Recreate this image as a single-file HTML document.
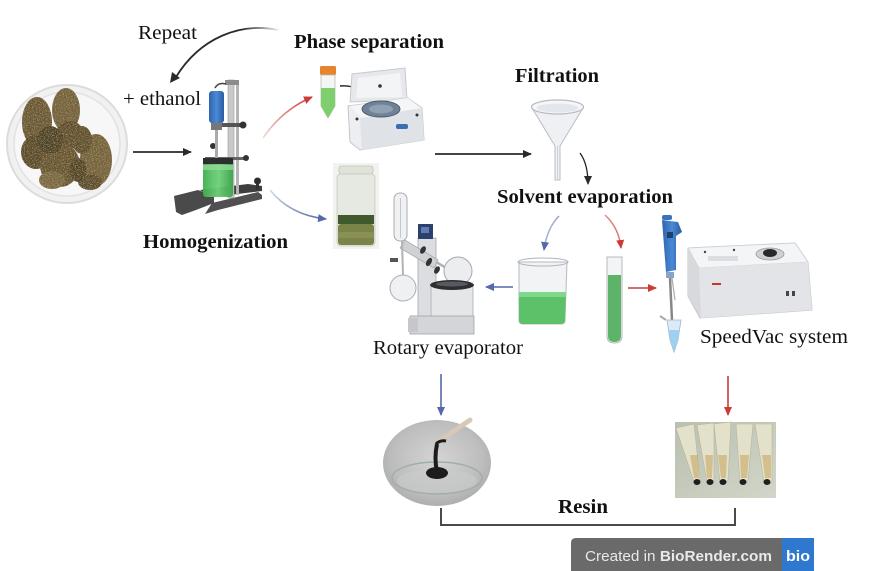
<!DOCTYPE html>
<html>
<head>
<meta charset="utf-8">
<style>
html,body{margin:0;padding:0;background:#fff;}
#c{position:relative;width:876px;height:571px;overflow:hidden;background:#fff;}
svg{position:absolute;left:0;top:0;}
</style>
</head>
<body>
<div id="c">
<svg width="876" height="571" viewBox="0 0 876 571" xmlns="http://www.w3.org/2000/svg">
<defs>
  <marker id="ak" markerWidth="10" markerHeight="10" refX="8" refY="4" orient="auto" markerUnits="userSpaceOnUse">
    <path d="M0,0 L9,4 L0,8 Z" fill="#2a2a2a"/>
  </marker>
  <marker id="ar" markerWidth="10" markerHeight="10" refX="8" refY="4" orient="auto" markerUnits="userSpaceOnUse">
    <path d="M0,0 L9,4 L0,8 Z" fill="#cc3b36"/>
  </marker>
  <marker id="ab" markerWidth="10" markerHeight="10" refX="8" refY="4" orient="auto" markerUnits="userSpaceOnUse">
    <path d="M0,0 L9,4 L0,8 Z" fill="#5568aa"/>
  </marker>
  <linearGradient id="fadeK" x1="1" y1="0" x2="0" y2="0">
    <stop offset="0" stop-color="#2a2a2a" stop-opacity="0.1"/>
    <stop offset="0.35" stop-color="#2a2a2a" stop-opacity="1"/>
    <stop offset="1" stop-color="#2a2a2a"/>
  </linearGradient>
  <linearGradient id="fadeR" x1="0" y1="1" x2="1" y2="0">
    <stop offset="0" stop-color="#cc3b36" stop-opacity="0.2"/>
    <stop offset="1" stop-color="#cc3b36"/>
  </linearGradient>
  <linearGradient id="fadeB" x1="0" y1="0" x2="1" y2="1">
    <stop offset="0" stop-color="#5568aa" stop-opacity="0.25"/>
    <stop offset="1" stop-color="#5568aa"/>
  </linearGradient>
  <radialGradient id="resinG" cx="0.5" cy="0.45" r="0.6">
    <stop offset="0" stop-color="#d4d4d4"/>
    <stop offset="0.7" stop-color="#bdbdbd"/>
    <stop offset="1" stop-color="#a9a9a9"/>
  </radialGradient>
  <linearGradient id="tubesG" x1="0" y1="0" x2="1" y2="1">
    <stop offset="0" stop-color="#b9c0b0"/>
    <stop offset="1" stop-color="#d2d6c8"/>
  </linearGradient>
  <linearGradient id="blueG" x1="0" y1="0" x2="1" y2="0">
    <stop offset="0" stop-color="#2f64ad"/>
    <stop offset="0.5" stop-color="#4a8ad6"/>
    <stop offset="1" stop-color="#2c5aa0"/>
  </linearGradient>
  <linearGradient id="greenG" x1="0" y1="0" x2="1" y2="0">
    <stop offset="0" stop-color="#3fae4c"/>
    <stop offset="0.5" stop-color="#6fd07a"/>
    <stop offset="1" stop-color="#3aa548"/>
  </linearGradient>
  <filter id="tex" x="0" y="0" width="1" height="1">
    <feTurbulence type="fractalNoise" baseFrequency="0.75" numOctaves="2" seed="3" result="n"/>
    <feColorMatrix in="n" type="matrix" values="0 0 0 0 0.2  0 0 0 0 0.15  0 0 0 0 0.07  1.6 0 0 0 -0.75" result="dk"/>
    <feComposite in="dk" in2="SourceGraphic" operator="in" result="t1"/>
    <feTurbulence type="fractalNoise" baseFrequency="0.9" numOctaves="2" seed="11" result="n2"/>
    <feColorMatrix in="n2" type="matrix" values="0 0 0 0 0.66  0 0 0 0 0.58  0 0 0 0 0.36  1.6 0 0 0 -0.8" result="lt"/>
    <feComposite in="lt" in2="SourceGraphic" operator="in" result="t2"/>
    <feMerge><feMergeNode in="SourceGraphic"/><feMergeNode in="t1"/><feMergeNode in="t2"/></feMerge>
  </filter>
</defs>

<!-- ===== Cannabis plate ===== -->
<ellipse cx="67" cy="144" rx="60" ry="59" fill="#f1f1f1" stroke="#dcdcdc" stroke-width="2"/>
<ellipse cx="67" cy="144" rx="53" ry="52" fill="#f7f7f7" stroke="#e2e2e2" stroke-width="1.5"/>
<g filter="url(#tex)">
  <ellipse cx="37" cy="122" rx="15" ry="25" fill="#6a5631"/>
  <ellipse cx="36" cy="152" rx="15" ry="17" fill="#574727"/>
  <ellipse cx="66" cy="110" rx="14" ry="22" fill="#73603a"/>
  <ellipse cx="70" cy="135" rx="14" ry="14" fill="#5d4c2a"/>
  <ellipse cx="60" cy="165" rx="20" ry="22" fill="#66532f"/>
  <ellipse cx="96" cy="160" rx="16" ry="26" fill="#74623a"/>
  <ellipse cx="50" cy="140" rx="13" ry="14" fill="#4a3c22"/>
  <ellipse cx="82" cy="140" rx="10" ry="14" fill="#5f4e2c"/>
  <ellipse cx="52" cy="180" rx="13" ry="9" fill="#7a6740"/>
  <ellipse cx="90" cy="182" rx="12" ry="8" fill="#5a4a29"/>
  <ellipse cx="78" cy="170" rx="8" ry="12" fill="#4d3f24"/>
</g>
<!-- arrow plate -> homogenizer -->
<line x1="133" y1="152" x2="191" y2="152" stroke="#2a2a2a" stroke-width="1.8" marker-end="url(#ak)"/>

<!-- Repeat arrow -->
<path d="M278,30 C240,22 200,38 176,77" fill="none" stroke="url(#fadeK)" stroke-width="1.8"/>
<path d="M170,83 L172,72 L180,78 Z" fill="#2a2a2a"/>

<!-- ===== Homogenizer ===== -->
<g>
  <polygon points="200,190 248,184 262,186 262,191 212,197" fill="#3e3e3e"/>
  <polygon points="174,196 198,190 214,196 214,203 196,210 182,215 176,212" fill="#4a4a4a"/>
  <polygon points="212,203 258,192 262,195 262,199 218,210 205,214" fill="#505050"/>
  <rect x="228" y="80" width="6" height="118" fill="#c9c9c9" stroke="#9a9a9a" stroke-width="0.6"/>
  <rect x="236" y="85" width="3" height="110" fill="#b5b5b5"/>
  <rect x="225" y="80" width="14" height="5" fill="#8c8c8c"/>
  <rect x="220" y="123" width="22" height="4" fill="#555"/>
  <circle cx="243" cy="125" r="3.5" fill="#333"/>
  <rect x="205" y="157" width="40" height="3" fill="#666"/>
  <circle cx="246" cy="158" r="3" fill="#333"/>
  <circle cx="213" cy="146" r="3" fill="#333"/>
  <path d="M215,88 Q218,82 226,84" fill="none" stroke="#444" stroke-width="1.5"/>
  <rect x="209" y="91" width="15" height="32" rx="3" fill="url(#blueG)"/>
  <rect x="211" y="123" width="11" height="7" fill="#777"/>
  <rect x="215" y="130" width="3" height="55" fill="#aaa"/>
  <rect x="203" y="162" width="30" height="35" rx="3" fill="url(#greenG)" opacity="0.95"/>
  <rect x="203" y="158" width="30" height="6" fill="#2e2e2e"/>
  <rect x="203" y="165" width="30" height="5" fill="#8ed895" opacity="0.8"/>
  <rect x="256" y="182" width="3" height="8" fill="#333"/>
  <circle cx="257.5" cy="181" r="3.5" fill="#2e2e2e"/>
</g>

<!-- red arrow to phase separation -->
<path d="M263,138 Q282,110 312,97" fill="none" stroke="url(#fadeR)" stroke-width="1.6" marker-end="url(#ar)"/>
<!-- blue arrow to jar -->
<path d="M270,190 Q290,215 326,219" fill="none" stroke="url(#fadeB)" stroke-width="1.6" marker-end="url(#ab)"/>

<!-- ===== Phase separation: tube + centrifuge ===== -->
<g>
  <rect x="320" y="66" width="16" height="9" rx="1.5" fill="#e8842c"/>
  <path d="M321,75 L335,75 L335,106 L328,118 L321,106 Z" fill="#f4f6f4" stroke="#b8c0b8" stroke-width="0.8"/>
  <path d="M321,88 L335,88 L335,106 L328,118 L321,106 Z" fill="#7fcf6f"/>
  <path d="M340,86 Q358,84 364,99" fill="none" stroke="#222" stroke-width="1.4" marker-end="url(#ak)"/>
  <polygon points="350,102 352,74 405,68 407,100" fill="#e6e8ec" stroke="#c7c9cd" stroke-width="1"/>
  <polygon points="356,98 358,78 400,73 402,97" fill="#f3f4f6"/>
  <circle cx="380" cy="86" r="1.8" fill="#333"/>
  <polygon points="348,106 408,98 422,108 424,140 360,150 350,142" fill="#eceef1" stroke="#c3c6cb" stroke-width="1"/>
  <polygon points="350,106 408,98 421,108 362,118" fill="#f5f6f8"/>
  <polygon points="360,118 422,108 424,140 362,150" fill="#dfe2e6"/>
  <ellipse cx="381" cy="109" rx="19" ry="8" fill="#6f8298" stroke="#4d5a6b" stroke-width="1"/>
  <ellipse cx="381" cy="109" rx="12" ry="4.5" fill="#8fa0b3"/>
  <rect x="396" y="124" width="12" height="5" rx="2" fill="#3b6db0"/>
  <circle cx="357" cy="119" r="1.5" fill="#333"/>
  <circle cx="417" cy="115" r="1.5" fill="#333"/>
</g>

<!-- ===== Jar photo ===== -->
<g>
  <rect x="333" y="163" width="46" height="86" fill="#f2f3ef"/>
  <rect x="339" y="166" width="34" height="8" rx="2" fill="#dfe3da" stroke="#bfc5b8" stroke-width="0.8"/>
  <rect x="337" y="174" width="38" height="72" rx="4" fill="#e6e9e1" stroke="#c4c9bd" stroke-width="0.8"/>
  <rect x="338" y="215" width="36" height="9" fill="#3f5a2c"/>
  <rect x="338" y="224" width="36" height="21" rx="3" fill="#7b8448"/>
  <rect x="338" y="232" width="36" height="6" fill="#8e9357" opacity="0.8"/>
</g>

<!-- black arrow to filtration -->
<line x1="435" y1="154" x2="531" y2="154" stroke="#2a2a2a" stroke-width="1.8" marker-end="url(#ak)"/>

<!-- ===== Funnel ===== -->
<g>
  <path d="M532,108 L583,108 L560,146 L560,180 L555,180 L555,146 Z" fill="#eef0f3" stroke="#b9bec6" stroke-width="1"/>
  <ellipse cx="557.5" cy="107" rx="26" ry="7" fill="#f5f6f8" stroke="#b5bac2" stroke-width="1.2"/>
  <ellipse cx="557.5" cy="108" rx="21" ry="4.5" fill="#e3e6ea"/>
  <line x1="557.5" y1="146" x2="557.5" y2="180" stroke="#cfd3d9" stroke-width="1"/>
</g>
<path d="M580,153 Q588,164 588,184" fill="none" stroke="#222" stroke-width="1.3" marker-end="url(#ak)"/>

<!-- ===== Rotary evaporator ===== -->
<g>
  <rect x="394" y="193" width="13" height="48" rx="6" fill="#f0f1f3" stroke="#a8acb2" stroke-width="1"/>
  <line x1="400.5" y1="198" x2="400.5" y2="238" stroke="#c4c7cc" stroke-width="1"/>
  <rect x="418" y="238" width="18" height="80" fill="#dcdde0" stroke="#a5a8ad" stroke-width="0.8"/>
  <rect x="418" y="224" width="15" height="15" fill="#2d3f6b"/>
  <rect x="421" y="227" width="8" height="6" fill="#5d7bb4"/>
  <polygon points="405,240 438,260 434,268 400,248" fill="#cfd1d5" stroke="#9da0a5" stroke-width="0.7"/>
  <ellipse cx="423" cy="250" rx="2.5" ry="4" fill="#333" transform="rotate(30 423 250)"/>
  <ellipse cx="429" cy="262" rx="2.5" ry="4.5" fill="#333" transform="rotate(30 429 262)"/>
  <ellipse cx="437" cy="270" rx="2.5" ry="4" fill="#333" transform="rotate(30 437 270)"/>
  <rect x="390" y="258" width="8" height="4" fill="#555"/>
  <line x1="402" y1="241" x2="403" y2="275" stroke="#b0b3b8" stroke-width="2"/>
  <circle cx="403" cy="288" r="13" fill="#eef0f2" stroke="#a9adb3" stroke-width="1"/>
  <line x1="436" y1="262" x2="450" y2="270" stroke="#b0b3b8" stroke-width="2.5"/>
  <circle cx="458" cy="271" r="14" fill="#ebedef" stroke="#a6aab0" stroke-width="1"/>
  <rect x="431" y="284" width="42" height="36" rx="3" fill="#e5e6e8" stroke="#a9acb1" stroke-width="0.8"/>
  <ellipse cx="452" cy="285" rx="22" ry="5" fill="#2e2e30"/>
  <ellipse cx="452" cy="284" rx="16" ry="2.5" fill="#575a60"/>
  <rect x="410" y="316" width="64" height="18" fill="#d3d5d8" stroke="#a0a3a8" stroke-width="0.8"/>
  <rect x="408" y="318" width="10" height="14" fill="#c5c7ca"/>
</g>
<line x1="513" y1="287" x2="486" y2="287" stroke="#5568aa" stroke-width="1.6" marker-end="url(#ab)"/>

<path d="M559,216 Q547,228 544,250" fill="none" stroke="url(#fadeB)" stroke-width="1.5" marker-end="url(#ab)"/>
<path d="M605,215 Q619,228 621,248" fill="none" stroke="url(#fadeR)" stroke-width="1.5" marker-end="url(#ar)"/>

<!-- ===== Beaker ===== -->
<g>
  <path d="M519,262 L567,262 L565,320 Q565,324 561,324 L523,324 Q519,324 519,320 Z" fill="#f1f3f5" stroke="#b5b9bf" stroke-width="1"/>
  <path d="M519,292 L566,292 L565,320 Q565,324 561,324 L523,324 Q519,324 519,320 Z" fill="#5cc169"/>
  <rect x="519" y="292" width="47" height="5" fill="#7fd88a"/>
  <ellipse cx="543" cy="262" rx="25" ry="4" fill="none" stroke="#b0b4ba" stroke-width="1"/>
</g>

<!-- ===== Test tube ===== -->
<g>
  <path d="M607,257 L622,257 L622,336 Q622,343 614.5,343 Q607,343 607,336 Z" fill="#f3f4f5" stroke="#b5b9bf" stroke-width="1"/>
  <path d="M608,275 L621,275 L621,336 Q621,342 614.5,342 Q608,342 608,336 Z" fill="#5db468"/>
</g>
<line x1="628" y1="288" x2="656" y2="288" stroke="#cc3b36" stroke-width="1.6" marker-end="url(#ar)"/>

<!-- ===== Pipette ===== -->
<g>
  <rect x="662" y="215" width="10" height="5" rx="2" fill="#3a72bb"/>
  <path d="M662,220 L678,222 L682,232 L676,236 L676,270 L666,272 Z" fill="url(#blueG)"/>
  <rect x="667" y="232" width="6" height="6" fill="#1f3f6e"/>
  <rect x="666" y="272" width="8" height="6" fill="#8aa2c4"/>
  <line x1="670" y1="278" x2="672" y2="320" stroke="#888" stroke-width="2.5"/>
  <line x1="672" y1="278" x2="675" y2="300" stroke="#aaa" stroke-width="1.2"/>
  <path d="M660,316 L666,320" stroke="#aaa" stroke-width="2"/>
  <path d="M667,320 L681,320 L678,340 L674,352 L670,340 Z" fill="#dbeaf7" stroke="#9fb6cc" stroke-width="0.8"/>
  <path d="M669,330 L680,330 L678,340 L674,351 L670,340 Z" fill="#9fd0f0"/>
</g>

<!-- ===== SpeedVac ===== -->
<g>
  <polygon points="688,248 795,243 808,262 812,310 700,318 688,296" fill="#e9eaed" stroke="#c2c4c8" stroke-width="1"/>
  <polygon points="688,248 795,243 808,262 699,268" fill="#f4f5f7" stroke="#cfd1d4" stroke-width="0.8"/>
  <polygon points="699,268 808,262 812,310 701,318" fill="#e3e4e7"/>
  <polygon points="688,248 699,268 701,318 688,296" fill="#d7d9dc"/>
  <ellipse cx="770" cy="254" rx="14" ry="6" fill="#cfd1d4" stroke="#999" stroke-width="0.8"/>
  <ellipse cx="770" cy="253" rx="7" ry="4" fill="#2a2a2a"/>
  <rect x="708" y="256" width="30" height="5" fill="#dcdde0"/>
  <circle cx="705" cy="252" r="1.2" fill="#444"/>
  <circle cx="734" cy="250" r="1.2" fill="#444"/>
  <rect x="712" y="283" width="9" height="2" fill="#c0392b"/>
  <rect x="786" y="291" width="3" height="5" fill="#444"/>
  <rect x="792" y="291" width="3" height="5" fill="#444"/>
</g>

<!-- down arrows -->
<line x1="441" y1="374" x2="441" y2="415" stroke="#5568aa" stroke-width="1.6" marker-end="url(#ab)"/>
<line x1="728" y1="376" x2="728" y2="415" stroke="#cc3b36" stroke-width="1.6" marker-end="url(#ar)"/>

<!-- ===== Resin photo ===== -->
<g>
  <ellipse cx="437" cy="463" rx="54" ry="43" fill="url(#resinG)"/>
  <ellipse cx="437" cy="478" rx="45" ry="16" fill="none" stroke="#9fb0a4" stroke-width="1.5"/>
  <ellipse cx="437" cy="481" rx="40" ry="12" fill="#c9cccb" opacity="0.6"/>
  <path d="M438,442 L470,420" stroke="#d8c8b8" stroke-width="5" stroke-linecap="round"/>
  <path d="M437,444 Q434,458 437,472" stroke="#1c1c1c" stroke-width="4" fill="none"/>
  <path d="M436,444 Q440,440 446,441" stroke="#1c1c1c" stroke-width="3" fill="none"/>
  <ellipse cx="437" cy="473" rx="11" ry="6" fill="#1c1c1c"/>
</g>

<!-- ===== Tubes photo ===== -->
<g>
  <rect x="675" y="422" width="101" height="76" fill="url(#tubesG)"/>
  <g fill="#e6e3cc" stroke="#b8b59c" stroke-width="0.6" opacity="0.95">
    <path d="M676,428 L694,424 L700,480 Q699,486 695,485 Z"/>
    <path d="M697,425 L714,423 L714,480 Q711,486 707,482 Z"/>
    <path d="M714,424 L731,422 L728,480 Q724,486 720,482 Z"/>
    <path d="M736,424 L753,424 L748,480 Q744,486 740,482 Z"/>
    <path d="M755,424 L772,424 L772,482 Q768,486 764,482 Z"/>
  </g>
  <g fill="#c6a45a" opacity="0.55">
    <path d="M690,455 L698,455 L699,478 L694,478 Z"/>
    <path d="M705,455 L713,455 L712,478 L707,478 Z"/>
    <path d="M718,455 L727,455 L726,478 L721,478 Z"/>
    <path d="M740,455 L749,455 L747,478 L741,478 Z"/>
    <path d="M762,455 L771,455 L771,478 L765,478 Z"/>
  </g>
  <g fill="#1f1f1f">
    <ellipse cx="697" cy="482" rx="3.5" ry="3"/>
    <ellipse cx="710" cy="482" rx="3.5" ry="3"/>
    <ellipse cx="723" cy="482" rx="3.5" ry="3"/>
    <ellipse cx="743" cy="482" rx="3.5" ry="3"/>
    <ellipse cx="767" cy="482" rx="3.5" ry="3"/>
  </g>
</g>

<!-- bracket -->
<path d="M441,508 L441,525 L735,525 L735,508" fill="none" stroke="#4a4a4a" stroke-width="2"/>

<!-- ===== Labels ===== -->
<g font-family="'Liberation Serif', serif" fill="#111">
  <text x="138" y="39" font-size="20" textLength="59" lengthAdjust="spacingAndGlyphs">Repeat</text>
  <text x="123" y="105" font-size="20" textLength="78" lengthAdjust="spacingAndGlyphs">+ ethanol</text>
  <text x="294" y="48" font-size="20" font-weight="bold" textLength="150" lengthAdjust="spacingAndGlyphs">Phase separation</text>
  <text x="143" y="248" font-size="20" font-weight="bold" textLength="145" lengthAdjust="spacingAndGlyphs">Homogenization</text>
  <text x="515" y="82" font-size="20" font-weight="bold" textLength="84" lengthAdjust="spacingAndGlyphs">Filtration</text>
  <text x="497" y="203" font-size="20" font-weight="bold" textLength="176" lengthAdjust="spacingAndGlyphs">Solvent evaporation</text>
  <text x="373" y="354" font-size="20" textLength="150" lengthAdjust="spacingAndGlyphs">Rotary evaporator</text>
  <text x="700" y="343" font-size="20" textLength="148" lengthAdjust="spacingAndGlyphs">SpeedVac system</text>
  <text x="558" y="513" font-size="20" font-weight="bold" textLength="50" lengthAdjust="spacingAndGlyphs">Resin</text>
</g>

<!-- ===== BioRender badge ===== -->
<path d="M571,571 L571,543 Q571,538 576,538 L814,538 L814,571 Z" fill="#6a6a6a"/>
<rect x="782" y="538" width="32" height="33" fill="#2f78cf"/>
<text x="585" y="561" font-family="'Liberation Sans', sans-serif" font-size="15" fill="#e9e9e9" textLength="187" lengthAdjust="spacingAndGlyphs">Created in <tspan font-weight="bold">BioRender.com</tspan></text>
<text x="786" y="561" font-family="'Liberation Sans', sans-serif" font-size="15" font-weight="bold" fill="#fff" textLength="24" lengthAdjust="spacingAndGlyphs">bio</text>
</svg>
</div>
</body>
</html>
